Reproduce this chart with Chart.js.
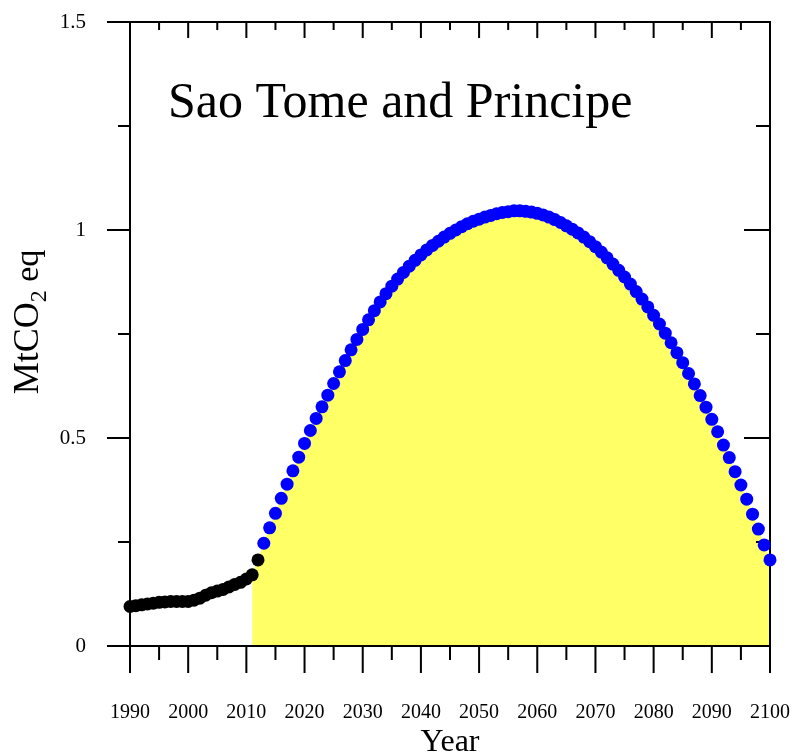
<!DOCTYPE html>
<html>
<head>
<meta charset="utf-8">
<script src="https://cdn.jsdelivr.net/npm/chart.js@4/dist/chart.umd.min.js"></script>
<style>
  html, body { margin: 0; padding: 0; background: #fff; }
  #wrap { width: 793px; height: 753px; }
</style>
</head>
<body>
<div id="wrap"><canvas id="myChart"></canvas></div>
<script>
var FONT = '"Liberation Serif", "Times New Roman", serif';

// historical emissions, 1990-2012
var histStart = 1990;
var histValues = [0.095, 0.097, 0.099, 0.101, 0.103, 0.105, 0.106, 0.107, 0.107, 0.107,
                  0.107, 0.110, 0.115, 0.122, 0.128, 0.132, 0.136, 0.142, 0.148, 0.153,
                  0.161, 0.171, 0.207];

// projected emissions, 2013-2100
var projStart = 2013;
var projValues = [0.247, 0.284, 0.319, 0.355, 0.389, 0.421, 0.454, 0.487, 0.518, 0.547,
                  0.575, 0.603, 0.631, 0.659, 0.686, 0.712, 0.737, 0.761, 0.784, 0.806,
                  0.827, 0.847, 0.865, 0.882, 0.898, 0.913, 0.927, 0.940, 0.952, 0.963,
                  0.973, 0.983, 0.992, 1.000, 1.008, 1.015, 1.021, 1.026, 1.031, 1.035,
                  1.039, 1.042, 1.044, 1.046, 1.046, 1.045, 1.043, 1.040, 1.036, 1.031,
                  1.025, 1.018, 1.010, 1.002, 0.993, 0.983, 0.972, 0.960, 0.947, 0.933,
                  0.918, 0.903, 0.887, 0.870, 0.852, 0.834, 0.815, 0.795, 0.774, 0.752,
                  0.729, 0.705, 0.681, 0.655, 0.630, 0.602, 0.574, 0.545, 0.515, 0.483,
                  0.453, 0.419, 0.387, 0.353, 0.317, 0.281, 0.243, 0.207];

// shaded area starts here
var fillStart = 2011;

var xTicks = [1990, 2000, 2010, 2020, 2030, 2040, 2050, 2060, 2070, 2080, 2090, 2100];
var yTicks = [0, 0.5, 1, 1.5];

function toPoints(start, values) {
    var pts = [];
    for (var i = 0; i < values.length; i++) {
        pts.push({x: start + i, y: values[i]});
    }
    return pts;
}

var histData = toPoints(histStart, histValues);
var projData = toPoints(projStart, projValues);
var fillData = histData.filter(function(p) { return p.x >= fillStart; }).concat(projData);

function drawFrame(chart) {
    var ctx = chart.ctx, a = chart.chartArea;
    var x = chart.scales.x, y = chart.scales.y;
    ctx.save();
    ctx.strokeStyle = '#000';
    ctx.lineWidth = 2;
    ctx.strokeRect(a.left, a.top, a.right - a.left, a.bottom - a.top);
    ctx.beginPath();
    for (var v = 1990; v <= 2100; v += 5) {
        var px = x.getPixelForValue(v);
        var major = v % 10 === 0;
        ctx.moveTo(px, a.bottom);
        ctx.lineTo(px, a.bottom + (major ? 27 : 14));
        ctx.moveTo(px, a.top);
        ctx.lineTo(px, a.top + (major ? 16 : 8));
    }
    for (var i = 0; i <= 6; i++) {
        var py = y.getPixelForValue(i * 0.25);
        var maj = i % 2 === 0;
        ctx.moveTo(a.left - (maj ? 23 : 12), py);
        ctx.lineTo(a.left, py);
        ctx.moveTo(a.right - (maj ? 26 : 14), py);
        ctx.lineTo(a.right, py);
    }
    ctx.stroke();
    ctx.restore();
}

function noPad(s) {
    s.paddingLeft = 0; s.paddingRight = 0; s.paddingTop = 0; s.paddingBottom = 0;
}

var framePlugin = {
    id: 'frame',
    afterDatasetDraw: function(chart, args) {
        if (args.index === 0) drawFrame(chart);
    },
    afterDraw: function(chart) {
        var ctx = chart.ctx, a = chart.chartArea;
        ctx.save();
        ctx.fillStyle = '#000';
        ctx.textBaseline = 'alphabetic';

        // country name inside the plot
        ctx.font = '50px ' + FONT;
        ctx.textAlign = 'left';
        ctx.fillText('Sao Tome and Principe', a.left + 38, a.top + 95);

        // x axis title
        ctx.font = '32px ' + FONT;
        ctx.textAlign = 'center';
        ctx.fillText('Year', (a.left + a.right) / 2, 751);

        // y axis title with subscript
        var parts = [['MtCO', 36, 0], ['2', 24, 8], [' eq', 34, 0]];
        var total = 0;
        parts.forEach(function(p) { ctx.font = p[1] + 'px ' + FONT; total += ctx.measureText(p[0]).width; });
        ctx.translate(38, 322);
        ctx.rotate(-Math.PI / 2);
        ctx.textAlign = 'left';
        var cx = -total / 2;
        parts.forEach(function(p) {
            ctx.font = p[1] + 'px ' + FONT;
            ctx.fillText(p[0], cx, p[2]);
            cx += ctx.measureText(p[0]).width;
        });
        ctx.restore();
    }
};

var ctx = document.getElementById('myChart').getContext('2d');
var chart = new Chart(ctx, {
    type: 'line',
    data: {
        datasets: [{
            label: 'shade',
            data: fillData,
            order: 3,
            fill: 'origin',
            backgroundColor: '#FFFF66',
            borderColor: 'rgba(0,0,0,0)',
            borderWidth: 0,
            pointRadius: 0,
            pointHoverRadius: 0
        }, {
            label: 'historical',
            data: histData,
            order: 1,
            showLine: false,
            clip: false,
            pointRadius: 6.5,
            pointHoverRadius: 6.5,
            pointBorderWidth: 0,
            pointBackgroundColor: '#000000',
            pointBorderColor: '#000000'
        }, {
            label: 'projection',
            data: projData,
            order: 2,
            showLine: false,
            clip: false,
            pointRadius: 6.5,
            pointHoverRadius: 6.5,
            pointBorderWidth: 0,
            pointBackgroundColor: '#0000FF',
            pointBorderColor: '#0000FF'
        }]
    },
    options: {
        responsive: true,
        maintainAspectRatio: false,
        animation: false,
        events: [],
        layout: { padding: { left: 0, right: 23, top: 22, bottom: 0 } },
        plugins: { legend: { display: false }, tooltip: { enabled: false } },
        scales: {
            x: {
                type: 'linear',
                min: 1990,
                max: 2100,
                afterFit: function(s) { s.height = 107; noPad(s); },
                afterBuildTicks: function(s) { s.ticks = xTicks.map(function(v) { return {value: v}; }); },
                grid: { display: false, drawTicks: false },
                border: { display: false },
                ticks: {
                    color: '#000',
                    font: { family: FONT, size: 20 },
                    padding: 55,
                    maxRotation: 0,
                    autoSkip: false,
                    callback: function(v) { return String(v); }
                }
            },
            y: {
                min: 0,
                max: 1.5,
                afterFit: function(s) { s.width = 130; noPad(s); },
                afterBuildTicks: function(s) { s.ticks = yTicks.map(function(v) { return {value: v}; }); },
                grid: { display: false, drawTicks: false },
                border: { display: false },
                ticks: {
                    color: '#000',
                    font: { family: FONT, size: 21 },
                    padding: 44,
                    callback: function(v) { return String(v); }
                }
            }
        }
    },
    plugins: [framePlugin]
});
</script>
</body>
</html>
